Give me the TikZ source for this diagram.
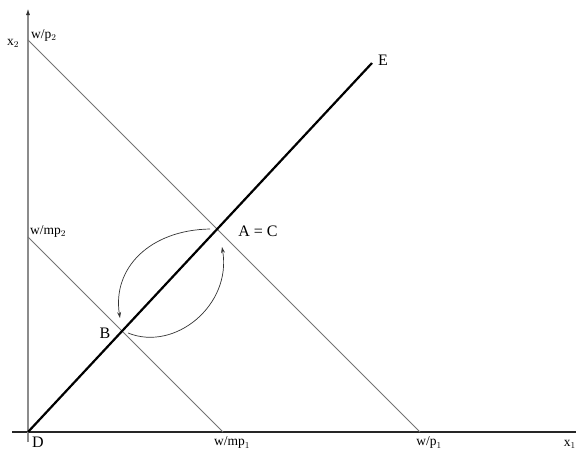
\documentclass[tikz,border=0pt]{standalone}
\usepackage{fontspec}
\setmainfont{Liberation Serif}
\usetikzlibrary{arrows.meta}
\begin{document}
\begin{tikzpicture}[x=1pt,y=-1pt,
  big/.style={font=\fontsize{16}{16}\selectfont,inner sep=0pt},
  small/.style={font=\fontsize{13.5}{13.5}\selectfont,inner sep=0pt},
  budget/.style={draw=black!55,line width=0.9pt},
  ray/.style={draw=black,line width=2.2pt},
  move/.style={draw=black!80,line width=0.7pt,-{Stealth[open,length=6pt,width=4pt]}}]
\useasboundingbox (0,0) rectangle (576,450);
% points
\coordinate (O) at (28,432);
\coordinate (Yt) at (28,8);
\coordinate (Yb) at (28,442);
\coordinate (Xl) at (12,432);
\coordinate (Xr) at (580,432);
\coordinate (P2) at (28,40);
\coordinate (P1) at (420,432);
\coordinate (M2) at (28,237);
\coordinate (M1) at (223,432);
\coordinate (Etop) at (372,63);
% axes
\draw[draw=black!85,line width=1.1pt] (Xl) -- (Xr);
\draw[draw=black!45,line width=1.6pt,-{Latex[length=7pt,width=4pt,color=black!80]}] (Yb) -- (Yt);
% budget lines
\draw[budget] (P2) -- (P1);
\draw[budget] (M2) -- (M1);
% expansion path
\draw[ray] (O) -- (Etop);
% curved arrows
\coordinate (a1s) at (210,229);
\coordinate (a1e) at (120,318);
\coordinate (a2s) at (128,333);
\coordinate (a2e) at (222,247);
\draw[move] (a1s) .. controls (150,230) and (112,268) .. (a1e);
\draw[move] (a2s) .. controls (175,352) and (232,305) .. (a2e);
% labels
\node[small] (lx2) at (13,43) {x$_2$};
\node[small,anchor=west] (lp2) at (31,35) {w/p$_2$};
\node[small,anchor=west] (lm2) at (30,231) {w/mp$_2$};
\node[big,anchor=south] (lD) at (38,448) {D};
\node[small,anchor=south] (lm1) at (232,449) {w/mp$_1$};
\node[small,anchor=south] (lp1) at (429,449) {w/p$_1$};
\node[small,anchor=south east] (lx1) at (576,449) {x$_1$};
\node[big] (lA) at (258,231) {A = C};
\node[big] (lB) at (105,333) {B};
\node[big] (lE) at (383,60) {E};
\end{tikzpicture}
\end{document}
